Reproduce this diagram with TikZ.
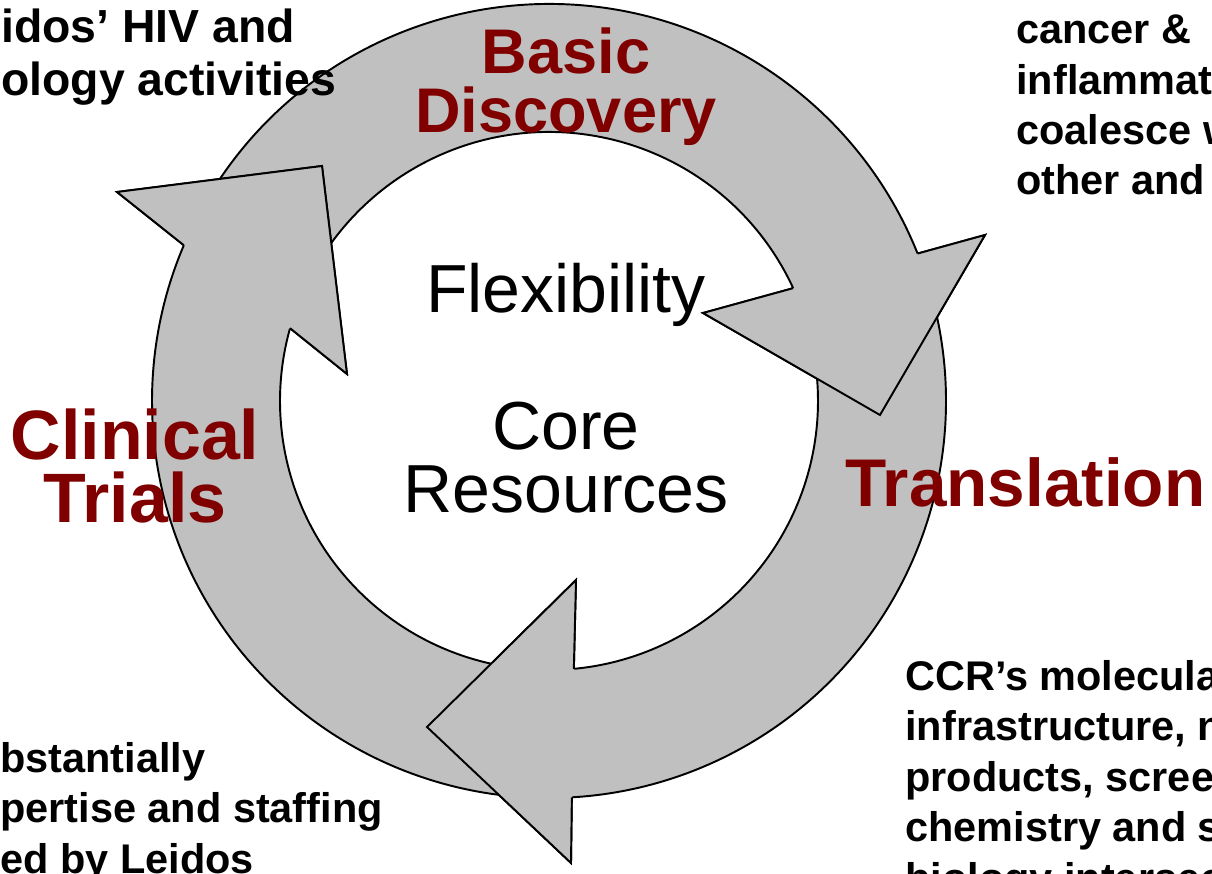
\documentclass[tikz,border=0pt]{standalone}
\usepackage{fontspec}
\setmainfont{Liberation Sans}

\definecolor{phasered}{HTML}{800000}
\definecolor{ringgrey}{HTML}{C0C0C0}

\tikzset{
  ringarrow/.style={draw=black, fill=ringgrey, line width=1.1pt, line join=miter},
  phase/.style={text=phasered, inner sep=0pt, align=center, font=\bfseries\fontsize{39.8}{35.9}\selectfont},
  centre/.style={inner sep=0pt, align=center, font=\fontsize{38.7}{35.9}\selectfont},
  note/.style={inner sep=0pt, align=left, font=\bfseries\fontsize{23.6}{28.7}\selectfont}
}

\begin{document}
\begin{tikzpicture}[x=0.02cm, y=0.02cm]
% ring of three arrows around (0,0), outer radius 397, inner radius 269
\newcommand\CycleArrow[6]{(#1:397) arc (#1:#2:397) -- #3 -- #4 -- #5 -- (#6:269) arc (#6:#1:269) -- cycle}
\newcommand\CycleHead[5]{\fill[ringgrey] #2 -- #3 -- #4 -- cycle;
  \draw[ringarrow, fill=none] (#1:397) -- #2 -- #3 -- #4 -- (#5:269);}
\useasboundingbox (-549,-473) rectangle (663,401);

\draw[ringarrow] \CycleArrow{148}{21.8}{(436,166)}{(331,-14)}{(154,88)}{24.8};
\draw[ringarrow] \CycleArrow{15}{-86.7}{(22,-462)}{(-122,-326)}{(27,-179)}{-84.7};
\draw[ringarrow] \CycleArrow{268}{156.9}{(-432,209)}{(-227,235)}{(-202,27)}{164.3};
% each head lies over the tail of the next arrow
\CycleHead{21.8}{(436,166)}{(331,-14)}{(154,88)}{24.8}
\CycleHead{-86.7}{(22,-462)}{(-122,-326)}{(27,-179)}{-84.7}
\CycleHead{156.9}{(-432,209)}{(-227,235)}{(-202,27)}{164.3}

% phase names (base = last line)
\node[phase, font=\bfseries\fontsize{35.9}{33.6}\selectfont, anchor=base] (basic) at (17,268) {Basic\\Discovery};
\node[phase, font=\bfseries\fontsize{38.4}{35.9}\selectfont, anchor=base west] (transl) at (296,-106) {Translation};
\node[phase, anchor=base] (clinical) at (-414,-122) {Clinical\\Trials};

% middle of the ring
\node[centre, anchor=base] (flex) at (17,88) {Flexibility};
\node[centre, anchor=base] (core) at (17,-112) {Core\\Resources};

% side notes
\node[note, font=\bfseries\fontsize{26.4}{30.7}\selectfont, anchor=base west] (noteTL) at (-548,305) {idos’ HIV and\\ology activities};
\node[note, anchor=base west] (noteTR) at (467,206) {cancer \&\\inflammation\\coalesce with\\other and};
\node[note, anchor=base west] (noteBR) at (356,-491) {CCR’s molecular\\infrastructure, n\\products, screen\\chemistry and s\\biology intersec};
\node[note, anchor=base west] (noteBL) at (-549,-472) {bstantially\\pertise and staffing\\ed by Leidos};
\end{tikzpicture}
\end{document}
